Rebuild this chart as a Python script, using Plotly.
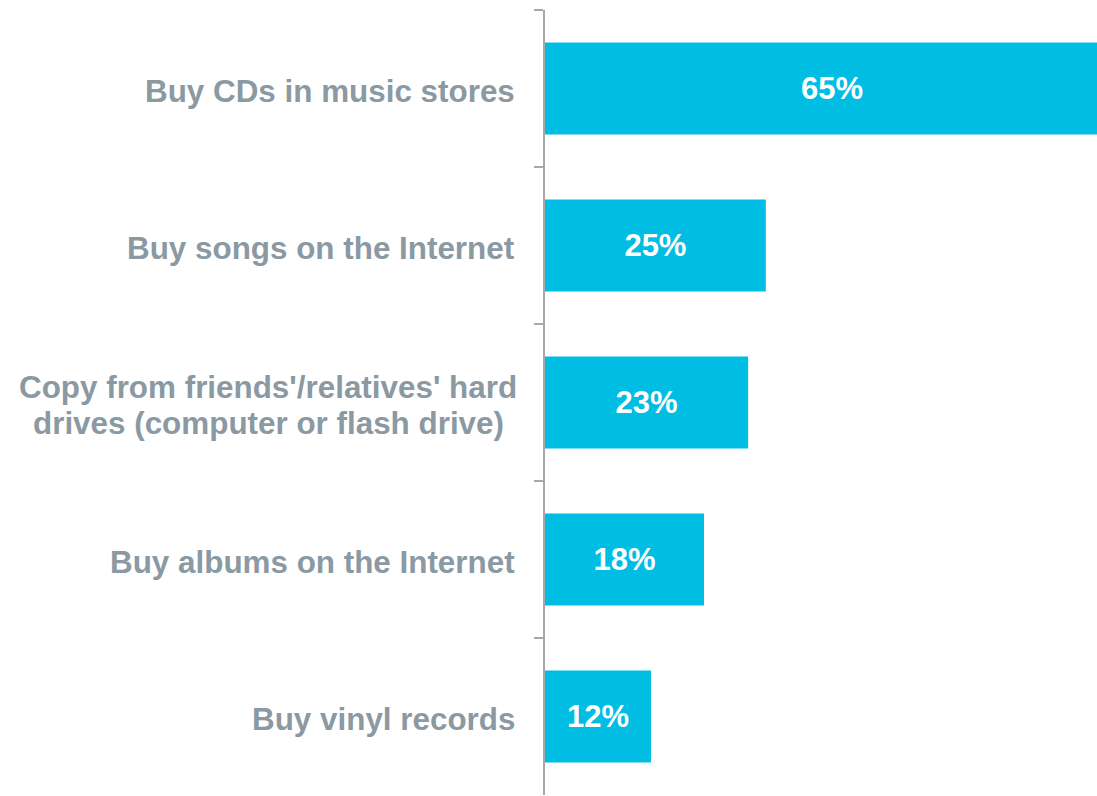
import plotly.graph_objects as go

# Survey answers: ways people get music, share of respondents (%)
categories = [
    "Buy CDs in music stores",
    "Buy songs on the Internet",
    "Copy from friends'/relatives' hard<br>drives (computer or flash drive)",
    "Buy albums on the Internet",
    "Buy vinyl records",
]
values = [65, 25, 23, 18, 12]

BAR_COLOR = "#00BDE3"
LABEL_COLOR = "#8B99A3"
AXIS_COLOR = "#A8A8A8"
FONT = "Liberation Sans, Arial, sans-serif"
LABEL_SIZE = 31.4
LINE_GAP = 36          # px between lines of a wrapped category label
LABEL_RIGHT = -28      # px from the axis to the right edge of the labels
WRAPPED_CENTER = -277  # px from the axis to the centre of a wrapped label
LABEL_DROP = 3         # labels sit a little below the bar centre

fig = go.Figure(
    go.Bar(
        x=values,
        y=categories,
        orientation="h",
        marker=dict(color=BAR_COLOR, line=dict(width=0)),
        text=[f"{v}%" for v in values],
        textposition="inside",
        insidetextanchor="middle",
        textfont=dict(family=FONT, size=31, color="white", weight="bold"),
        cliponaxis=True,
        hoverinfo="skip",
    )
)

# Category labels to the left of the axis; wrapped ones are centred per line
annotations = []
for cat in categories:
    lines = cat.split("<br>")
    n = len(lines)
    for i, line in enumerate(lines):
        offset = (i - (n - 1) / 2) * LINE_GAP
        annotations.append(
            dict(
                text=line,
                xref="paper",
                x=0,
                xanchor="right" if n == 1 else "center",
                xshift=LABEL_RIGHT if n == 1 else WRAPPED_CENTER,
                yref="y",
                y=cat,
                yanchor="middle",
                yshift=-LABEL_DROP - offset,
                showarrow=False,
                font=dict(family=FONT, size=LABEL_SIZE, color=LABEL_COLOR,
                          weight="bold"),
            )
        )

fig.update_layout(
    width=1097,
    height=796,
    margin=dict(l=545, r=0, t=10, b=1),
    paper_bgcolor="white",
    plot_bgcolor="white",
    bargap=0.414,
    showlegend=False,
    annotations=annotations,
    xaxis=dict(range=[0, 62.5], visible=False, fixedrange=True),
    yaxis=dict(
        type="category",
        autorange="reversed",
        showticklabels=False,
        showgrid=False,
        zeroline=False,
        showline=True,
        linecolor=AXIS_COLOR,
        linewidth=2,
        ticks="outside",
        tickson="boundaries",
        ticklen=9,
        tickwidth=2,
        tickcolor=AXIS_COLOR,
        fixedrange=True,
    ),
)

fig.write_html("out.html")
